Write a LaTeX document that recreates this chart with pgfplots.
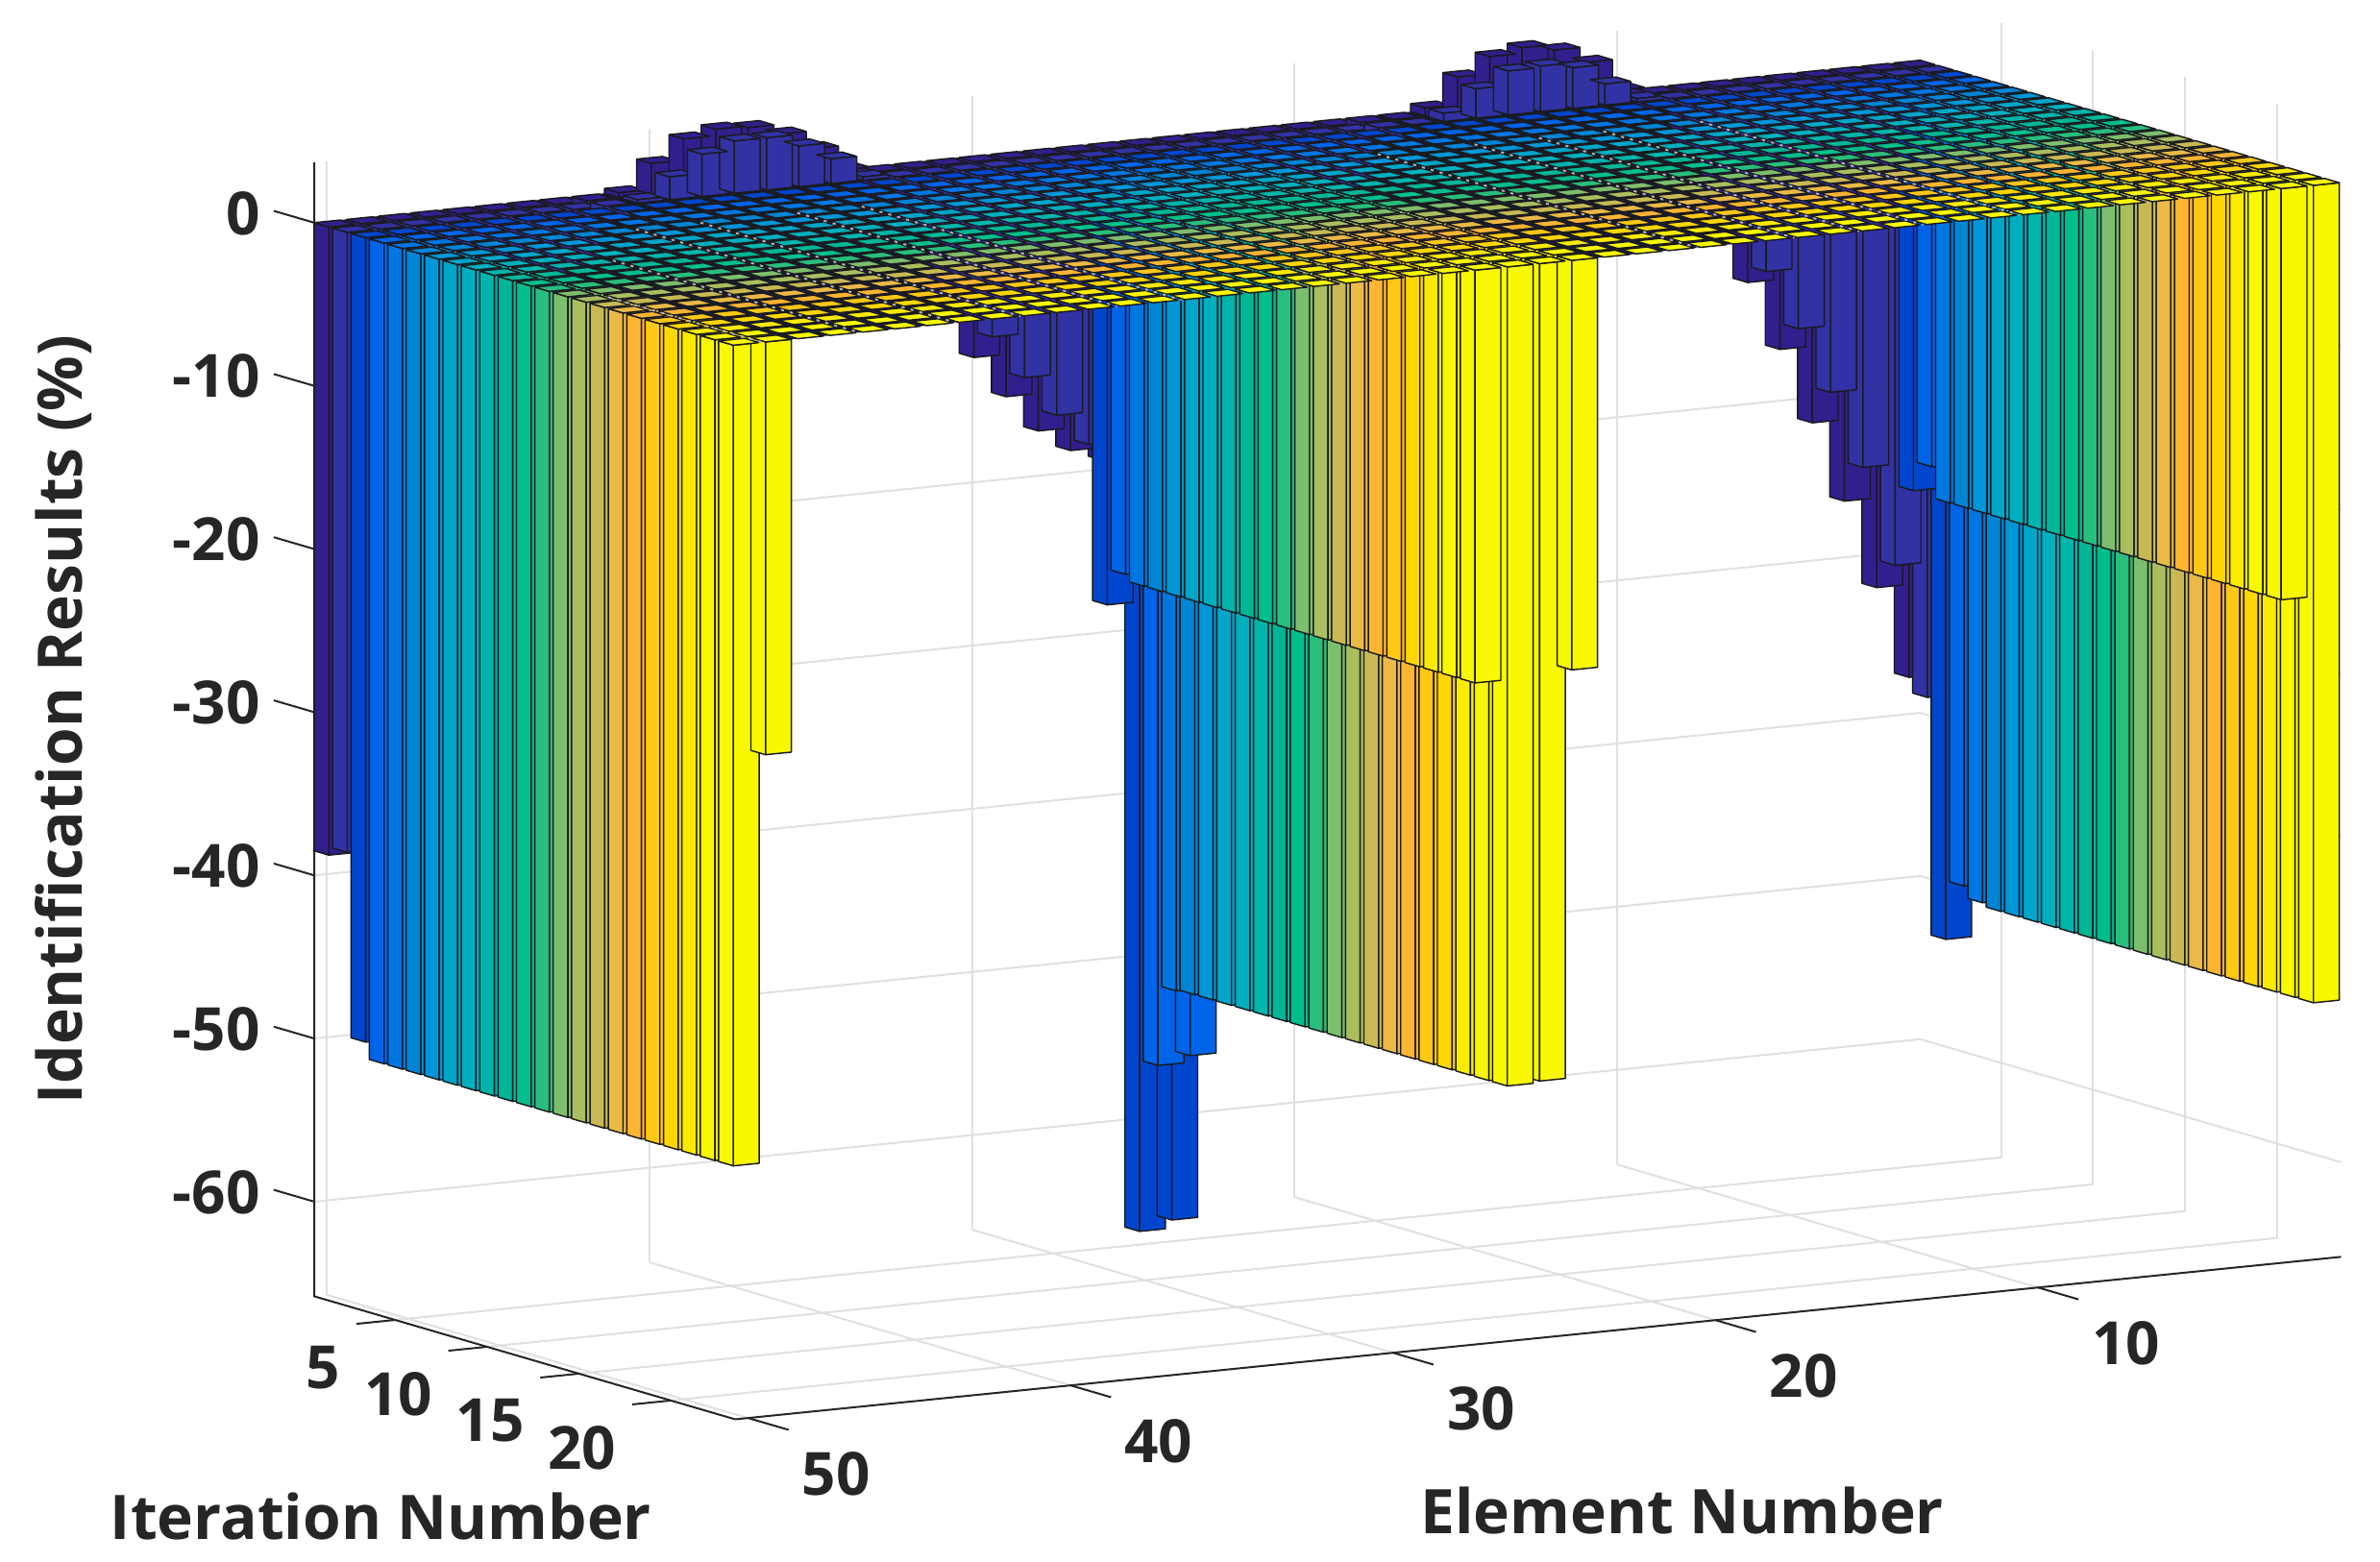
\documentclass[border=0pt]{standalone}
\usepackage{fontspec}
\setmainfont{Open Sans}
\usepackage{pgfplots}
\pgfplotsset{compat=1.18}
\definecolor{edge}{RGB}{26,26,30}
\definecolor{under}{RGB}{24,30,48}
\definecolor{gridc}{RGB}{224,224,224}
\definecolor{axisc}{RGB}{38,38,38}
\definecolor{streak}{RGB}{175,175,175}
\pgfplotsset{
  colormap={iter}{
    rgb255=(50,30,140) rgb255=(50,50,165) rgb255=(0,70,205) rgb255=(0,100,232)
    rgb255=(0,118,225) rgb255=(0,132,212) rgb255=(0,150,215) rgb255=(0,165,200)
    rgb255=(0,175,190) rgb255=(0,180,172) rgb255=(0,182,150) rgb255=(0,190,140)
    rgb255=(40,190,125) rgb255=(125,190,110) rgb255=(170,190,95) rgb255=(200,185,85)
    rgb255=(235,185,70) rgb255=(255,180,50) rgb255=(255,200,20) rgb255=(255,215,0)
    rgb255=(250,235,0) rgb255=(248,248,0) rgb255=(248,248,0)
  },
  bar3d/.style={patch, patch type=rectangle, shader=faceted, faceted color=edge,
    line width=0.36pt, forget plot},
  axline/.style={axisc, line width=0.5pt, forget plot},
  gap/.style={streak, line width=0.5pt, dash pattern=on 0.8pt off 1.6pt, forget plot},
}
% one call per iteration: heights for elements 1..50, back to front
\newcount\elem
\newcommand{\iterrow}[2]{%
  \gdef\pts{}\global\elem=0
  \edef\xa{\the\numexpr#1-1\relax.6}\edef\xb{#1.4}%
  \edef\rowlist{#2}%
  \foreach \v in \rowlist {%
    \global\advance\elem by 1
    \edef\ya{\the\numexpr\elem-1\relax.6}\edef\yb{\the\elem.4}%
    \ifdim\v pt>0pt \edef\ztop{\v}\else\edef\ztop{0}\fi
    \ifdim\v pt=0pt \else
      \xdef\pts{\pts (\xa,\yb,0)(\xb,\yb,0)(\xb,\yb,\v)(\xa,\yb,\v) (\xb,\ya,0)(\xb,\yb,0)(\xb,\yb,\v)(\xb,\ya,\v) }%
    \fi
    \xdef\pts{\pts (\xa,\ya,\ztop)(\xb,\ya,\ztop)(\xb,\yb,\ztop)(\xa,\yb,\ztop) }%
  }%
  \edef\tmp{\noexpand\addplot3[bar3d, point meta=#1] coordinates {\pts};}\tmp
}
\def\zA{0,0,0,0,0,0,0,0,0,0,0,0,0,0,0,0,0,0,0,0,0}
\begin{document}
\begin{tikzpicture}
\useasboundingbox (0,0) rectangle (619.25pt,406.5pt);
\begin{axis}[
  at={(81.77pt,37.13pt)}, anchor=south west,
  x={(4.783pt,-1.398pt)}, y={(8.390pt,0.849pt)}, z={(0pt,4.246pt)},
  y dir=reverse,
  xmin=0.6, xmax=23.5, ymin=0.6, ymax=50.4, zmin=-65.8, zmax=3.7,
  xtick={5,10,15,20}, ytick={10,20,30,40,50}, ztick={-60,-50,-40,-30,-20,-10,0},
  xtick pos=lower, ytick pos=lower, ztick pos=left,
  major tick length=0pt,
  grid=major, grid style={gridc, line width=0.5pt},
  axis line style={draw=none},
  tick style={draw=none},
  clip=false,
  colormap name=iter, point meta min=1, point meta max=23,
  /pgf/number format/assume math mode=true,
  ticklabel style={font=\fontsize{15.5}{15.5}\selectfont\bfseries, text=axisc},
  xticklabel style={anchor=east, xshift=-10.7pt, yshift=-12.3pt},
  yticklabel style={anchor=center, xshift=22.9pt, yshift=-14.6pt},
  zticklabel style={anchor=east, xshift=-10.6pt, yshift=2.5pt},
  label style={font=\fontsize{16}{16}\selectfont\bfseries, text=axisc},
  xlabel={Iteration Number}, ylabel={Element Number}, zlabel={Identification Results (\%)},
  xlabel style={at={(axis cs:0.6,48.33,-79.7)}, anchor=center, rotate=0},
  ylabel style={at={(axis cs:0.6,7.98,-87.4)}, anchor=center, rotate=0},
  zlabel style={at={(axis cs:0.6,58.17,-28.9)}, anchor=center, rotate=0},
]
% axis lines and outward ticks, the way MATLAB runs them along the other axes
\addplot3[axline] coordinates {(0.6,50.4,3.7) (0.6,50.4,-65.8) (23.5,50.4,-65.8) (23.5,0.6,-65.8)};
\addplot3[axline] coordinates {(0.6,50.4,0) (-1.6,50.4,0)};
\addplot3[axline] coordinates {(0.6,50.4,-10) (-1.6,50.4,-10)};
\addplot3[axline] coordinates {(0.6,50.4,-20) (-1.6,50.4,-20)};
\addplot3[axline] coordinates {(0.6,50.4,-30) (-1.6,50.4,-30)};
\addplot3[axline] coordinates {(0.6,50.4,-40) (-1.6,50.4,-40)};
\addplot3[axline] coordinates {(0.6,50.4,-50) (-1.6,50.4,-50)};
\addplot3[axline] coordinates {(0.6,50.4,-60) (-1.6,50.4,-60)};
\addplot3[axline] coordinates {(5,50.4,-65.8) (5,51.6,-65.8)};
\addplot3[axline] coordinates {(10,50.4,-65.8) (10,51.6,-65.8)};
\addplot3[axline] coordinates {(15,50.4,-65.8) (15,51.6,-65.8)};
\addplot3[axline] coordinates {(20,50.4,-65.8) (20,51.6,-65.8)};
\addplot3[axline] coordinates {(23.5,50,-65.8) (25.7,50,-65.8)};
\addplot3[axline] coordinates {(23.5,40,-65.8) (25.7,40,-65.8)};
\addplot3[axline] coordinates {(23.5,30,-65.8) (25.7,30,-65.8)};
\addplot3[axline] coordinates {(23.5,20,-65.8) (25.7,20,-65.8)};
\addplot3[axline] coordinates {(23.5,10,-65.8) (25.7,10,-65.8)};
\addplot3[fill=under, draw=none, forget plot] coordinates {(0.6,0.6,0) (23.4,0.6,0) (23.4,50.4,0) (0.6,50.4,0) (0.6,0.6,0)};
\iterrow{1}{-37.4,-31.7,-26.2,-21.2,-16.5,-12.2,-8,-4,-1,0.4,2.3,3.25,3.6,3.25,2.2,0.5,0,-1,-4,-8,-12,-14.6,-16.9,-18.3,-19.1,-19.1,-18.3,-16.9,-14.6,-12,-8,-4,-1,0.3,1.8,2.9,3.5,3.6,3.2,1.9,0.3,-1,-4,-8,-12.2,-16.5,-21.2,-26.2,-31.7,-38.5}
\iterrow{2}{-38.3,-30,-23.8,-19,-14.9,-11.2,-7,-3.5,-0.8,0.2,1.3,2.5,2.8,2.7,1.8,0.5,0,-0.8,-3.5,-7,-10.4,-13.1,-15.6,-17.6,-18.5,-18.5,-17.6,-15.6,-13.1,-10.4,-7,-3.5,-0.8,0.2,1.5,2.5,3.2,3.2,2.6,1.4,0.2,-0.8,-3.5,-7,-11.2,-14.9,-19,-23.8,-30,-38}
\iterrow{3}{-52.8,-25.1,\zA,-27,-65.2,-65.7,-27.1,\zA,-25.3,-49.3}
\iterrow{4}{-49.2,-23.3,\zA,-24.7,-54.8,-55.2,-24.9,\zA,-25.3,-50.3}
\iterrow{5}{-49.9,-25.2,\zA,-25.1,-50,-50.3,-25.3,\zA,-25.3,-50.3}
\iterrow{6}{-50.1,-25.2,\zA,-25.1,-50.1,-50.2,-25.3,\zA,-25.3,-50.3}
\iterrow{7}{-50.1,-25.2,\zA,-25.1,-50.1,-50.2,-25.3,\zA,-25.3,-50.3}
\iterrow{8}{-50.1,-25.2,\zA,-25.1,-50.1,-50.2,-25.3,\zA,-25.3,-50.3}
\iterrow{9}{-50.1,-25.2,\zA,-25.1,-50.1,-50.2,-25.3,\zA,-25.3,-50.3}
\iterrow{10}{-50.1,-25.2,\zA,-25.1,-50.1,-50.2,-25.3,\zA,-25.3,-50.3}
\iterrow{11}{-50.1,-25.2,\zA,-25.1,-50.1,-50.2,-25.3,\zA,-25.3,-50.3}
\iterrow{12}{-50.1,-25.2,\zA,-25.1,-50.1,-50.2,-25.3,\zA,-25.3,-50.3}
\iterrow{13}{-50.1,-25.2,\zA,-25.1,-50.1,-50.2,-25.3,\zA,-25.3,-50.3}
\iterrow{14}{-50.1,-25.2,\zA,-25.1,-50.1,-50.2,-25.3,\zA,-25.3,-50.3}
\iterrow{15}{-50.1,-25.2,\zA,-25.1,-50.1,-50.2,-25.3,\zA,-25.3,-50.3}
\iterrow{16}{-50.1,-25.2,\zA,-25.1,-50.1,-50.2,-25.3,\zA,-25.3,-50.3}
\iterrow{17}{-50.1,-25.2,\zA,-25.1,-50.1,-50.2,-25.3,\zA,-25.3,-50.3}
\iterrow{18}{-50.1,-25.2,\zA,-25.1,-50.1,-50.2,-25.3,\zA,-25.3,-50.3}
\iterrow{19}{-50.1,-25.2,\zA,-25.1,-50.1,-50.2,-25.3,\zA,-25.3,-50.3}
\iterrow{20}{-50.1,-25.2,\zA,-25.1,-50.1,-50.2,-25.3,\zA,-25.3,-50.3}
\iterrow{21}{-50.1,-25.2,\zA,-25.1,-50.1,-50.2,-25.3,\zA,-25.3,-50.3}
\iterrow{22}{-50.1,-25.2,\zA,-25.1,-50.1,-50.2,-25.3,\zA,-25.3,-50.3}
\iterrow{23}{-50.1,-25.2,\zA,-25.1,-50.1,-50.2,-25.3,\zA,-25.3,-50.3}
\addplot3[gap] coordinates {(15,49.5,0) (23.4,49.5,0)};
\addplot3[gap] coordinates {(10,46.5,0) (23.4,46.5,0)};
\addplot3[gap] coordinates {(6,43.5,0) (23.4,43.5,0)};
\addplot3[gap] coordinates {(6,41.5,0) (23.4,41.5,0)};
\addplot3[gap] coordinates {(6,38.5,0) (23.4,38.5,0)};
\addplot3[gap] coordinates {(6,36.5,0) (23.4,36.5,0)};
\addplot3[gap] coordinates {(6,20.5,0) (23.4,20.5,0)};
\addplot3[gap] coordinates {(6,17.5,0) (23.4,17.5,0)};
\addplot3[gap] coordinates {(6,15.5,0) (23.4,15.5,0)};
\addplot3[gap] coordinates {(6,13.5,0) (23.4,13.5,0)};
\addplot3[gap] coordinates {(6,10.5,0) (23.4,10.5,0)};
\end{axis}
\end{tikzpicture}
\end{document}
